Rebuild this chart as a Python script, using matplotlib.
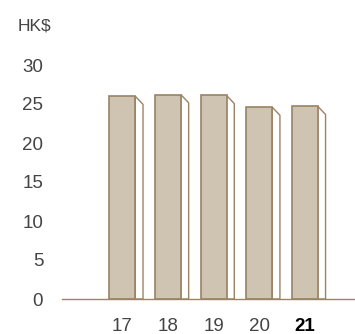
import matplotlib
matplotlib.use("Agg")
import matplotlib.pyplot as plt
from matplotlib.patches import Polygon

# data
years = ["17", "18", "19", "20", "21"]
values = [26.0, 26.2, 26.1, 24.6, 24.7]
yticks = [0, 5, 10, 15, 20, 25, 30]

face_color = "#cfc4b2"
edge_color = "#9b8365"
text_color = "#444444"

plt.rcParams['font.family'] = ['Liberation Sans', 'DejaVu Sans']

fig = plt.figure(figsize=(3.55, 3.34), dpi=100)
ax = fig.add_axes((62 / 355, 35 / 334, 293 / 355, 234 / 334))

x = list(range(len(years)))
bar_w = 0.57
ax.bar(x, values, width=bar_w, color=face_color, edgecolor=edge_color,
       linewidth=1.2, zorder=3)

# side faces of the bars (fake 3D)
dx, dy = 0.17, 1.05
for xi, v in zip(x, values):
    r = xi + bar_w / 2
    side = Polygon([(r, v), (r + dx, v - dy), (r + dx, 0), (r, 0)],
                   closed=True, facecolor="white", edgecolor=edge_color,
                   linewidth=1.0, zorder=2)
    ax.add_patch(side)

ax.set_xlim(-1.32, 5.1)
ax.set_ylim(0, 30)

for s in ["top", "right", "left"]:
    ax.spines[s].set_visible(False)
ax.spines["bottom"].set_color(edge_color)
ax.spines["bottom"].set_linewidth(1.0)
ax.spines["bottom"].set_zorder(4)

ax.set_yticks(yticks)
ax.set_yticklabels([str(t) for t in yticks])
ax.set_xticks(x)
ax.set_xticklabels(years)
ax.tick_params(axis="both", length=0, labelsize=13.5, labelcolor=text_color, pad=13.5)
labels = ax.get_xticklabels()
labels[-1].set_fontweight("bold")
labels[-1].set_color("black")

fig.text(18 / 355, 1 - 26 / 334, "HK$", fontsize=12.5, color=text_color,
         ha="left", va="center")

fig.savefig("out.png", dpi=100)
